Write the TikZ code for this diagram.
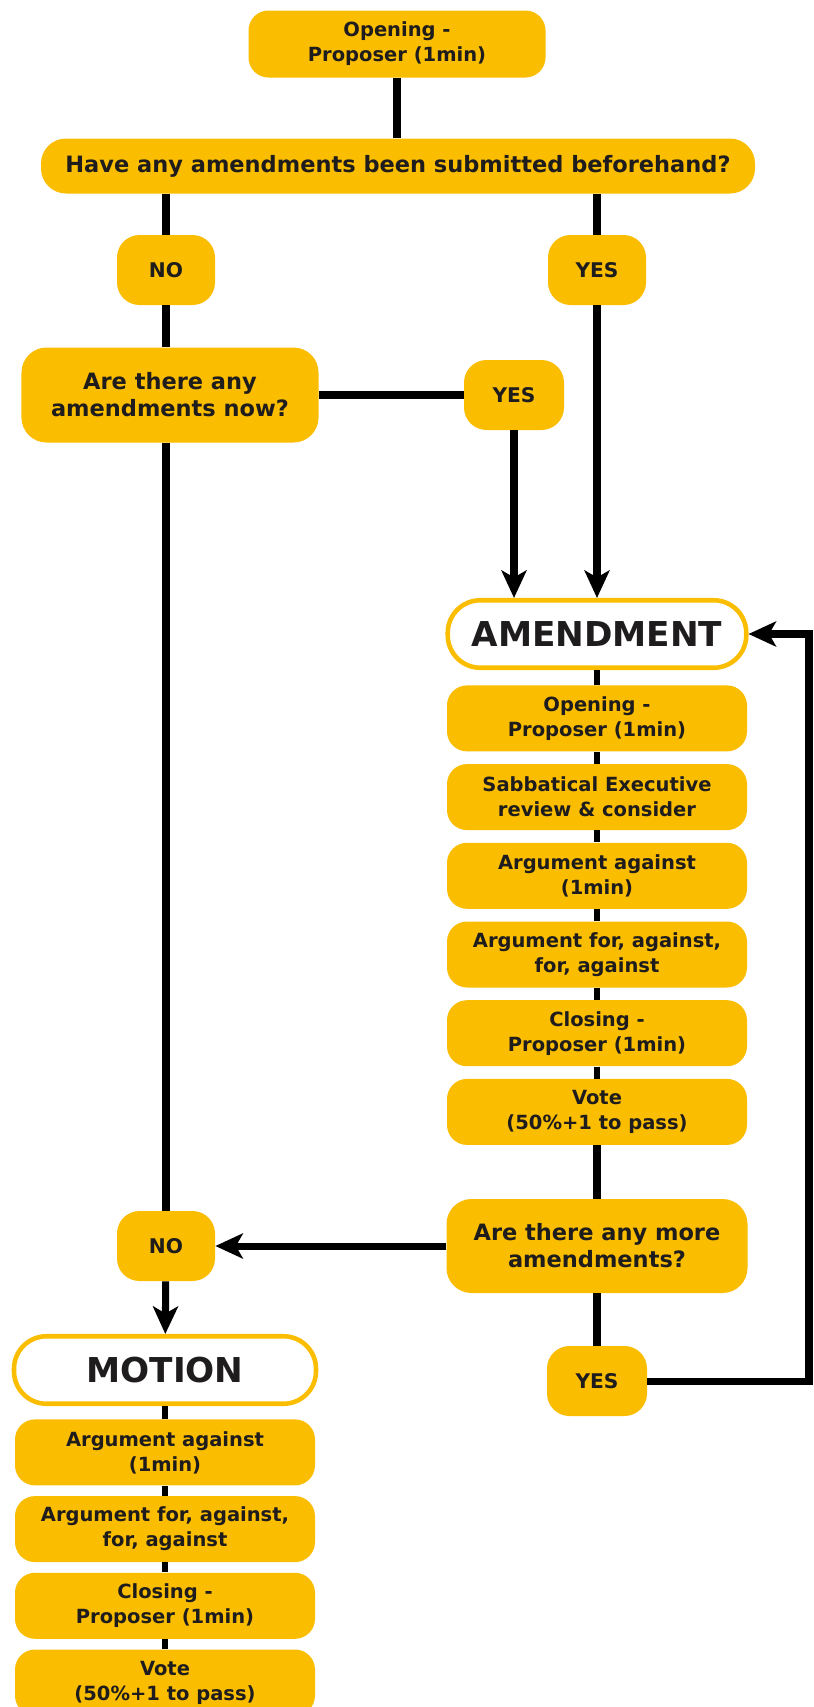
\documentclass[tikz,border=0pt]{standalone}
\usepackage{fontspec}
\setmainfont{DejaVu Sans}
\usetikzlibrary{positioning, arrows.meta}
\definecolor{amber}{RGB}{250,189,0}
\definecolor{ink}{RGB}{30,28,28}

\begin{document}
\begin{tikzpicture}[>={Stealth[length=0.55cm, width=0.5cm, inset=0.14cm]}]
    \tikzset{stepbox/.style = {fill=amber, rectangle, rounded corners=0.4cm, align=center, inner sep=0pt,
                               minimum width=6cm, minimum height=1.32cm, text=ink,
                               font=\fontsize{11.1}{14.2}\selectfont\bfseries},
             askbox/.style = {fill=amber, rectangle, rounded corners=0.5cm, align=center, inner sep=0pt, text=ink,
                              font=\fontsize{12.8}{15.4}\selectfont\bfseries},
             answer/.style = {fill=amber, rectangle, rounded corners=0.45cm, inner sep=0pt, text=ink,
                              minimum width=1.96cm, minimum height=1.4cm,
                              font=\fontsize{11.5}{14}\selectfont\bfseries},
             header/.style = {draw=amber, line width=2.6pt, fill=white, rounded corners=0.65cm, inner sep=0pt,
                              minimum height=1.35cm, text=ink,
                              font=\fontsize{19.5}{22}\selectfont\bfseries},
             link/.style = {draw=black, line width=4pt},
             joint/.style = {draw=black, line width=3pt}
            }
    \fill[white] (0,0) rectangle (16.28,-34.14);
    \useasboundingbox (0,0) rectangle (16.28,-34.14);

    % opening question
    \node (open) [askbox, minimum width=5.94cm, minimum height=1.34cm, rounded corners=0.4cm,
                  font=\fontsize{11.1}{14.2}\selectfont\bfseries] at (7.94,-0.88) {Opening -\\Proposer (1min)};
    \node (ask1) [askbox, minimum width=14.28cm, minimum height=1.10cm] at (7.96,-3.32)
        {Have any amendments been submitted beforehand?};
    \node (no1) [answer] at (3.32,-5.40) {NO};
    \node (yes1) [answer] at (11.94,-5.40) {YES};
    \node (ask2) [askbox, minimum width=5.94cm, minimum height=1.90cm] at (3.40,-7.90) {Are there any\\amendments now?};
    \node (yes2) [answer, minimum width=2cm] at (10.28,-7.90) {YES};

    % amendment
    \node (amend) [header, minimum width=5.97cm] at (11.94,-12.68) {AMENDMENT};
    \node (a1) [stepbox, below=0.30cm of amend] {Opening -\\Proposer (1min)};
    \node (a2) [stepbox, below=0.24cm of a1] {Sabbatical Executive\\review \& consider};
    \node (a3) [stepbox, below=0.24cm of a2] {Argument against\\(1min)};
    \node (a4) [stepbox, below=0.24cm of a3] {Argument for, against,\\for, against};
    \node (a5) [stepbox, below=0.24cm of a4] {Closing -\\Proposer (1min)};
    \node (a6) [stepbox, below=0.24cm of a5] {Vote\\(50\%+1 to pass)};
    \node (ask3) [askbox, minimum width=6.02cm, minimum height=1.88cm] at (11.94,-24.92) {Are there any more\\amendments?};
    \node (no2) [answer] at (3.32,-24.92) {NO};
    \node (yes3) [answer, minimum width=2cm] at (11.94,-27.62) {YES};
    \coordinate (loop) at (16.18,-27.62);

    % motion
    \node (motion) [header, minimum width=6.04cm] at (3.30,-27.40) {MOTION};
    \node (m1) [stepbox, below=0.26cm of motion] {Argument against\\(1min)};
    \node (m2) [stepbox, below=0.20cm of m1] {Argument for, against,\\for, against};
    \node (m3) [stepbox, below=0.20cm of m2] {Closing -\\Proposer (1min)};
    \node (m4) [stepbox, below=0.20cm of m3] {Vote\\(50\%+1 to pass)};

    \path[link] (open) -- (open |- ask1.north);
    \path[link] (no1 |- ask1.south) -- (no1);
    \path[link] (yes1 |- ask1.south) -- (yes1);
    \path[link] (no1) -- (no1 |- ask2.north);
    \path[link] (ask2) -- (yes2);
    \path[link, ->] (yes2) -- (yes2 |- amend.north);
    \path[link, ->] (yes1) -- (amend);
    \path[link] (no2 |- ask2.south) -- (no2);
    \foreach \a/\b in {amend/a1, a1/a2, a2/a3, a3/a4, a4/a5, a5/a6, motion/m1, m1/m2, m2/m3, m3/m4}
        \path[joint] (\a) -- (\b);
    \path[link] (a6) -- (ask3);
    \path[link, ->] (ask3) -- (no2);
    \path[link, ->] (no2) -- (motion);
    \path[link] (ask3) -- (yes3);
    \path[link, ->] (yes3) -- (loop) |- (amend.east);
\end{tikzpicture}
\end{document}
